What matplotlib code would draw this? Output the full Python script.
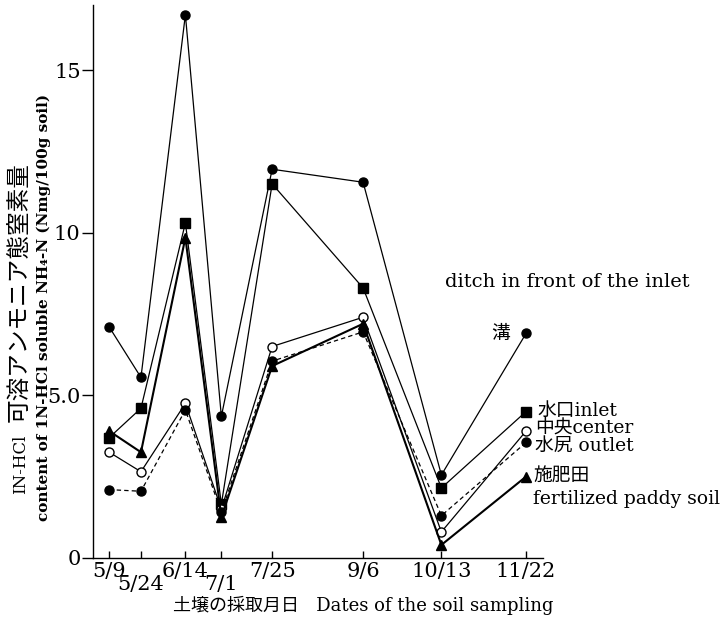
import datetime as dt
import matplotlib
matplotlib.use("Agg")
import matplotlib.pyplot as plt

plt.rcParams['font.family'] = ['DejaVu Serif', 'Noto Sans CJK JP']

# sampling dates (month/day) and NH4-N content, mg N / 100 g soil
dates = ["5/9", "5/24", "6/14", "7/1", "7/25", "9/6", "10/13", "11/22"]
ditch = [7.1, 5.55, 16.7, 4.35, 11.95, 11.55, 2.55, 6.9]
inlet = [3.7, 4.6, 10.3, 1.65, 11.5, 8.3, 2.15, 4.5]
center = [3.25, 2.65, 4.75, 1.5, 6.5, 7.4, 0.8, 3.9]
outlet = [2.1, 2.05, 4.55, 1.4, 6.05, 6.95, 1.3, 3.55]
fertilized = [3.9, 3.25, 9.85, 1.25, 5.9, 7.2, 0.4, 2.5]

low_labels = ["5/24", "7/1"]   # staggered tick labels


def day_of_year(md):
    m, d = (int(v) for v in md.split("/"))
    return dt.date(1975, m, d).timetuple().tm_yday


x = [day_of_year(d) for d in dates]

fig = plt.figure(figsize=(7.22, 6.22), dpi=100)
ax = fig.add_axes([0.129, 0.103, 0.623, 0.889])

kw = dict(color="black", lw=0.9, markersize=6.5)
ax.plot(x, ditch, "-o", **kw)
ax.plot(x, inlet, "-s", **kw)
ax.plot(x, center, "-o", markerfacecolor="white", **kw)
ax.plot(x, outlet, "--o", dashes=(3.5, 2.5), **kw)
ax.plot(x, fertilized, "-^", color="black", lw=1.5, markersize=7)

ax.set_xlim(x[0] - 7.6, x[-1] + 8)
ax.set_ylim(0, 17)

for s in ("top", "right"):
    ax.spines[s].set_visible(False)
ax.spines["left"].set_linewidth(1.0)
ax.spines["bottom"].set_linewidth(1.0)

ax.set_yticks([0, 5, 10, 15])
ax.set_yticklabels(["0", "5.0", "10", "15"], fontsize=15)
ax.tick_params(axis="y", direction="out", length=8, width=1, pad=1)

hi = [(xi, d) for xi, d in zip(x, dates) if d not in low_labels]
lo = [(xi, d) for xi, d in zip(x, dates) if d in low_labels]
ax.set_xticks([p for p, _ in hi])
ax.set_xticklabels([d for _, d in hi], fontsize=15)
ax.set_xticks([p for p, _ in lo], minor=True)
ax.set_xticklabels([d for _, d in lo], minor=True, fontsize=15)
ax.tick_params(axis="x", which="major", direction="in", length=5, width=1, pad=3)
ax.tick_params(axis="x", which="minor", direction="in", length=5, width=1, pad=12)

# y axis title: Japanese line (reagent name + kana/kanji) and English line
fig.text(0.028, 0.205, "IN-HCl", rotation=90, ha="center", va="bottom", fontsize=12)
fig.text(0.028, 0.322, "可溶アンモニア態窒素量", rotation=90, ha="center", va="bottom",
         fontsize=17)
fig.text(0.06, 0.505, "content of 1N-HCl soluble NH₄-N (Nmg/100g soil)", rotation=90,
         ha="center", va="center", fontsize=11, fontweight="bold")

fig.text(0.503, 0.027, "土壌の採取月日   Dates of the soil sampling",
         ha="center", va="center", fontsize=13)

# series labels next to the last points
last = x[-1]
lab = dict(textcoords="offset pixels", va="center", fontsize=13.5)
ax.annotate("ditch in front of the inlet", (last, ditch[-1]), xytext=(-81, 51), ha="left",
            **{**lab, "fontsize": 14})
ax.annotate("溝", (last, ditch[-1]), xytext=(-16, 0), ha="right", **lab)
ax.annotate("水口inlet", (last, inlet[-1]), xytext=(11, 1), ha="left", **lab)
ax.annotate("中央center", (last, center[-1]), xytext=(9, 4), ha="left", **lab)
ax.annotate("水尻 outlet", (last, outlet[-1]), xytext=(9, -3), ha="left", **lab)
ax.annotate("施肥田", (last, fertilized[-1]), xytext=(7, 1), ha="left", **lab)
ax.annotate("fertilized paddy soil", (last, fertilized[-1]), xytext=(7, -22), ha="left", **lab)

fig.savefig("out.png", dpi=100)
